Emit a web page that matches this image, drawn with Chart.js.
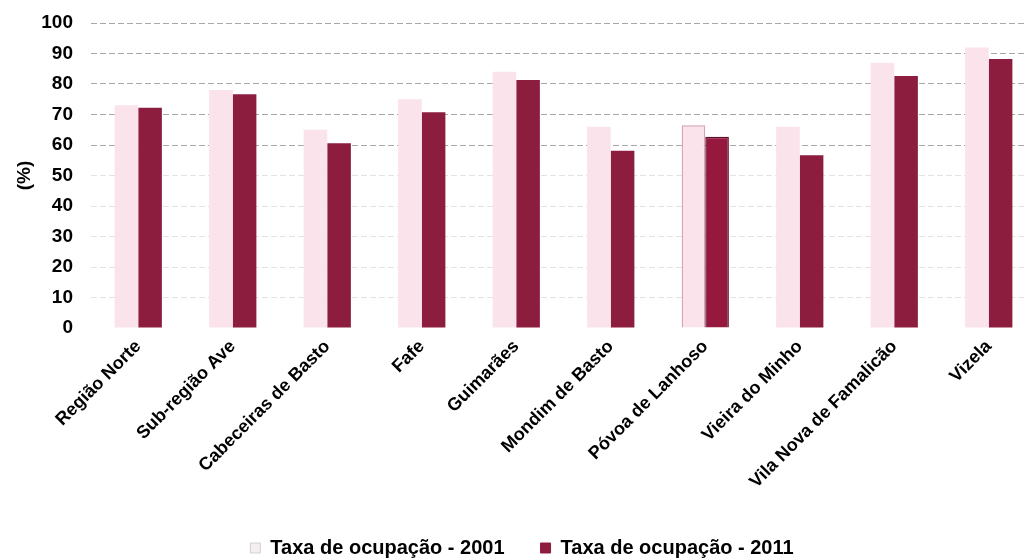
<!DOCTYPE html>
<html>
<head>
<meta charset="utf-8">
<script src="https://cdn.jsdelivr.net/npm/chart.js@4/dist/chart.umd.min.js"></script>
<style>
  html, body { margin: 0; padding: 0; background: #fff; overflow: hidden; }
  #wrap { position: relative; width: 1040px; height: 568px; }
</style>
</head>
<body>
<div id="wrap"><canvas id="c"></canvas></div>
<script>
const categories = ['Região Norte', 'Sub-região Ave', 'Cabeceiras de Basto', 'Fafe', 'Guimarães',
  'Mondim de Basto', 'Póvoa de Lanhoso', 'Vieira do Minho', 'Vila Nova de Famalicão', 'Vizela'];
const taxa2001 = [73, 78, 65, 75, 84, 66, 66.5, 66, 87, 92];
const taxa2011 = [72.2, 76.6, 60.6, 70.7, 81.3, 58.1, 62.7, 56.6, 82.6, 88.2];
const yTicks = [0, 10, 20, 30, 40, 50, 60, 70, 80, 90, 100];
const seriesNames = ['Taxa de ocupação - 2001', 'Taxa de ocupação - 2011'];

const FONT = "'Liberation Sans', Arial, sans-serif";
const highlightIdx = 6;

new Chart(document.getElementById('c'), {
  type: 'bar',
  data: {
    labels: categories,
    datasets: [
      {
        label: seriesNames[0],
        data: taxa2001,
        backgroundColor: '#fbe3ec',
        borderColor: categories.map((_, i) => i === highlightIdx ? '#d9a3ba' : '#c8c8c8'),
        borderWidth: categories.map((_, i) => i === highlightIdx ? 1.5 : 0),
        categoryPercentage: 0.5,
        barPercentage: 1.0
      },
      {
        label: seriesNames[1],
        data: taxa2011,
        backgroundColor: categories.map((_, i) => i === highlightIdx ? '#96183f' : '#8c1d3f'),
        borderColor: categories.map((_, i) => i === highlightIdx ? '#5c0c28' : '#8c1d3f'),
        borderWidth: categories.map((_, i) => i === highlightIdx ? 1.5 : 0),
        categoryPercentage: 0.5,
        barPercentage: 1.0
      }
    ]
  },
  options: {
    responsive: true,
    maintainAspectRatio: false,
    animation: false,
    layout: { padding: { top: 23, left: 8, right: 4, bottom: 0 } },
    plugins: {
      tooltip: { enabled: false },
      legend: {
        position: 'bottom',
        labels: {
          color: '#000',
          font: { family: FONT, size: 20, weight: 'bold' },
          boxWidth: 10,
          boxHeight: 10,
          padding: 36,
          generateLabels: (chart) => chart.data.datasets.map((ds, i) => ({
            text: ds.label,
            fillStyle: i === 0 ? '#f3eef0' : '#8c1d3f',
            strokeStyle: i === 0 ? '#d0d0d0' : '#8c1d3f',
            lineWidth: 1,
            datasetIndex: i,
            fontColor: '#000'
          }))
        }
      }
    },
    scales: {
      x: {
        grid: { display: false, drawTicks: false },
        border: { display: false },
        ticks: {
          color: '#000',
          font: { family: FONT, size: 18, weight: 'bold' },
          maxRotation: 45,
          minRotation: 45,
          autoSkip: false,
          padding: 8
        },
        afterFit: (scale) => {
          scale.height = 174;
          scale.paddingLeft = 0;
          scale.paddingRight = 0;
        }
      },
      y: {
        min: 0,
        max: 100,
        afterBuildTicks: (scale) => { scale.ticks = yTicks.map(v => ({ value: v })); },
        afterFit: (scale) => {
          scale.width = 83;
          scale.paddingTop = 0;
          scale.paddingBottom = 0;
        },
        grid: {
          drawTicks: false,
          lineWidth: 1,
          color: (ctx) => {
            const v = ctx.tick ? ctx.tick.value : 0;
            if (v === 0) return 'rgba(0,0,0,0)';
            return v >= 60 ? '#a8a8a8' : '#e2e2e2';
          }
        },
        border: { display: false, dash: [6, 3] },
        ticks: {
          color: '#000',
          font: { family: FONT, size: 19, weight: 'bold' },
          padding: 18
        },
        title: {
          display: true,
          text: '(%)',
          color: '#000',
          font: { family: FONT, size: 19, weight: 'bold' },
          padding: 5
        }
      }
    }
  }
});
</script>
</body>
</html>
